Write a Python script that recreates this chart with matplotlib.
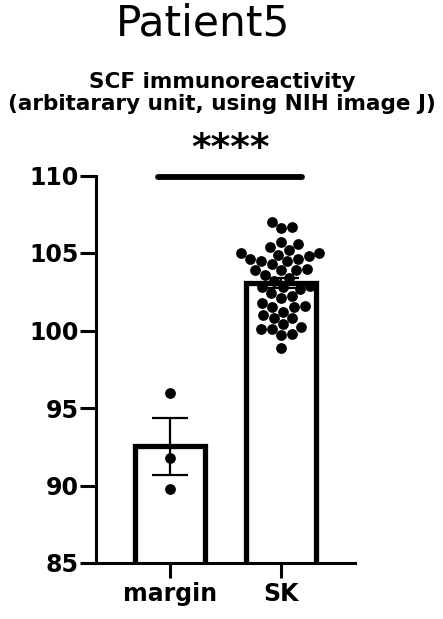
import numpy as np
import matplotlib.pyplot as plt

# Data
groups = ['margin', 'SK']
margin_vals = [96.0, 91.8, 89.8]
sk_vals = [107.0, 106.7, 106.6, 105.7, 105.6, 105.4, 105.2, 105.0, 104.8, 104.6,
           104.6, 104.5, 104.5, 104.3, 104.0, 103.9, 103.9, 103.9, 103.6, 103.2,
           102.9, 102.8, 102.8, 102.7, 102.4, 102.1, 101.8, 101.6, 101.5, 101.5,
           101.2, 101.0, 100.8, 100.8, 100.4, 100.2, 100.1, 100.1, 99.8, 99.7,
           98.9, 103.4, 104.9, 105.0, 102.2]
y_ticks = [85, 90, 95, 100, 105, 110]
title = 'Patient5'
ylabel_text = 'SCF immunoreactivity\n(arbitarary unit, using NIH image J)'
sig_text = '****'


def swarm_offsets(vals, px_per_y, px_per_x, diam):
    # simple beeswarm: place each point at the nearest free x offset
    placed = []
    offs = np.zeros(len(vals))
    order = np.argsort(vals)
    for i in order:
        y = vals[i] * px_per_y
        cands = [0.0]
        for (px, py) in placed:
            dy = y - py
            if abs(dy) < diam:
                dx = np.sqrt(diam ** 2 - dy ** 2)
                cands += [px + dx, px - dx]
        cands.sort(key=abs)
        for c in cands:
            if all((c - px) ** 2 + (y - py) ** 2 >= diam ** 2 - 1e-6 for (px, py) in placed):
                offs[i] = c / px_per_x
                placed.append((c, y))
                break
    return offs


fig = plt.figure(figsize=(4.43, 6.19), dpi=100)
ax = fig.add_axes([96 / 443, 1 - 563 / 619, 259 / 443, 387.5 / 619])

data = [np.array(margin_vals), np.array(sk_vals)]
means = [d.mean() for d in data]
sems = [d.std(ddof=1) / np.sqrt(len(d)) for d in data]
xs = np.arange(len(groups))

ax.bar(xs, means, width=0.63, color='white', edgecolor='black', linewidth=3.8, zorder=2)
ax.errorbar(xs, means, yerr=sems, fmt='none', ecolor='black', elinewidth=1.6,
            capsize=13, capthick=1.6, zorder=3)

for i, d in enumerate(data):
    off = swarm_offsets(d, 15.5, 111.0, 11) if len(d) > 5 else np.zeros(len(d))
    ax.scatter(xs[i] + off, d, s=60, color='black', zorder=4, linewidths=0)

ax.set_xlim(-0.667, 1.667)
ax.set_ylim(85, 110)
ax.set_yticks(y_ticks)
ax.set_xticks(xs)
ax.set_xticklabels(groups)

for s in ['top', 'right']:
    ax.spines[s].set_visible(False)
for s in ['left', 'bottom']:
    ax.spines[s].set_linewidth(2.2)

ax.tick_params(axis='y', length=11.5, width=2.2, pad=1, labelsize=17)
ax.tick_params(axis='x', length=11, width=2.2, pad=3, labelsize=17)
for lab in ax.get_xticklabels() + ax.get_yticklabels():
    lab.set_fontweight('bold')

# significance bar
ax.plot([-0.11, 1.19], [109.9, 109.9], color='black', linewidth=4.2,
        solid_capstyle='round', clip_on=False, zorder=5)
fig.text(230 / 443, 1 - 149 / 619, sig_text, ha='center', va='center',
         fontsize=27, fontweight='bold')

fig.text(203 / 443, 1 - 24 / 619, title, ha='center', va='center', fontsize=30.5)
fig.text(222 / 443, 1 - 93 / 619, ylabel_text, ha='center', va='center',
         fontsize=15.5, fontweight='bold', linespacing=1.15)

plt.savefig('out.png', dpi=100)
